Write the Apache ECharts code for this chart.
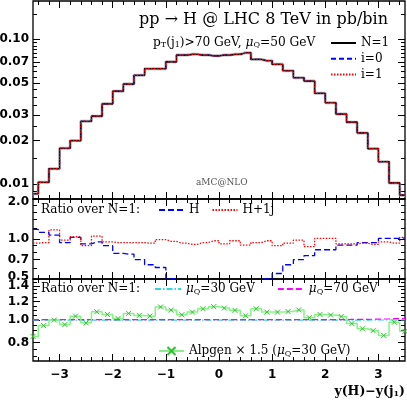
<!DOCTYPE html>
<html>
<head>
<meta charset="utf-8">
<script src="https://cdn.jsdelivr.net/npm/echarts@6/dist/echarts.min.js"></script>
<style>
html, body { margin: 0; padding: 0; background: #fff; }
#chart { width: 407px; height: 401px; }
</style>
</head>
<body>
<div id="chart"></div>
<script>
// bin centres of y(H)-y(j1), bins are 0.2 wide
var binCenters = [-3.5, -3.3, -3.1, -2.9, -2.7, -2.5, -2.3, -2.1, -1.9, -1.7, -1.5, -1.3,
    -1.1, -0.9, -0.7, -0.5, -0.3, -0.1, 0.1, 0.3, 0.5, 0.7, 0.9, 1.1,
    1.3, 1.5, 1.7, 1.9, 2.1, 2.3, 2.5, 2.7, 2.9, 3.1, 3.3, 3.5];

// main panel, pb/bin (N=1, i=0 and i=1 lie on top of each other)
var xsecN1 = [0.0086, 0.0103, 0.0128, 0.0177, 0.0200, 0.0272, 0.0295, 0.0359, 0.0439, 0.0491, 0.0564, 0.0627,
    0.0627, 0.0700, 0.0779, 0.0788, 0.0779, 0.0770, 0.0779, 0.0788, 0.0808, 0.0727, 0.0712, 0.0672,
    0.0607, 0.0543, 0.0515, 0.0424, 0.0365, 0.0305, 0.0268, 0.0226, 0.0176, 0.0143, 0.0102, 0.0084];

// ratio panel 1
var ratioH = [1.18, 1.12, 1.07, 0.94, 1.03, 0.92, 0.95, 0.89, 0.78, 0.77, 0.70, 0.64,
    0.61, 0.50, 0.45, 0.41, 0.38, 0.37, 0.37, 0.38, 0.41, 0.45, 0.50, 0.55,
    0.64, 0.70, 0.75, 0.83, 0.83, 0.90, 0.90, 0.94, 0.94, 1.01, 1.01, 1.02];
var ratioHj = [0.93, 0.94, 1.17, 0.98, 1.04, 0.89, 1.05, 0.95, 0.94, 0.94, 0.94, 0.93,
    0.99, 0.96, 0.93, 0.91, 0.94, 0.97, 0.92, 0.97, 0.90, 0.94, 0.97, 0.89,
    0.93, 0.98, 0.875, 1.01, 1.01, 0.92, 0.92, 0.93, 0.91, 0.95, 0.93, 1.03];

// ratio panel 2
var ratioMu30 = [0.999, 0.999, 0.999, 0.999, 0.999, 0.999, 0.999, 0.999, 0.999, 0.999, 0.999, 0.999,
    0.999, 0.999, 0.999, 0.999, 0.999, 0.999, 0.999, 0.999, 0.999, 0.999, 0.999, 0.999,
    0.999, 0.999, 0.999, 0.999, 0.999, 0.999, 0.999, 0.999, 1.000, 1.000, 1.002, 1.002];
var ratioMu70 = [1.004, 1.004, 1.004, 1.004, 1.004, 1.004, 1.004, 1.004, 1.004, 1.004, 1.004, 1.004,
    1.004, 1.004, 1.004, 1.004, 1.004, 1.004, 1.004, 1.004, 1.004, 1.004, 1.004, 1.004,
    1.004, 1.004, 1.004, 1.004, 1.004, 1.004, 1.006, 1.006, 1.008, 1.010, 1.014, 1.014];
var ratioAlpgen = [0.85, 0.946, 1.00, 0.956, 1.039, 0.972, 1.085, 1.057, 1.015, 1.067, 1.046, 1.039,
    1.137, 1.103, 1.053, 1.081, 1.118, 1.141, 1.125, 1.10, 1.043, 1.118, 1.081, 1.081,
    1.087, 1.105, 1.023, 1.057, 1.051, 1.035, 0.965, 0.917, 0.90, 0.858, 0.978, 0.894];

// ticks and labels
var xMajor = [-3, -2, -1, 0, 1, 2, 3];
var xMinor = [-3.4, -3.2, -2.8, -2.6, -2.4, -2.2, -1.8, -1.6, -1.4, -1.2, -0.8, -0.6, -0.4, -0.2,
    0.2, 0.4, 0.6, 0.8, 1.2, 1.4, 1.6, 1.8, 2.2, 2.4, 2.6, 2.8, 3.2, 3.4];
var mainLabels = [0.01, 0.02, 0.03, 0.05, 0.07, 0.10];
var mainMinor = [0.008, 0.009, 0.015, 0.025, 0.035, 0.04, 0.045, 0.055, 0.06, 0.065,
    0.075, 0.08, 0.085, 0.09, 0.095, 0.15];
var r1Labels = [0.5, 0.7, 1.0, 2.0];
var r1Minor = [0.6, 0.8, 0.9, 1.2, 1.4, 1.6, 1.8];
var r2Labels = [0.8, 1.0, 1.2, 1.4];
var r2Minor = [0.7, 0.75, 0.85, 0.9, 0.95, 1.05, 1.1, 1.15, 1.25, 1.3, 1.35, 1.45];

var SERIF = 'DejaVu Serif';
var SANS = 'DejaVu Sans';

function pairs(vals) {
    return binCenters.map(function (x, i) { return [x, vals[i]]; });
}

var grids = [
    { left: 33, top: 1, width: 372, height: 198 },
    { left: 33, top: 199, width: 372, height: 80 },
    { left: 33, top: 279, width: 372, height: 82 }
];
grids.forEach(function (g) {
    g.show = true;
    g.borderColor = '#000';
    g.borderWidth = 1.3;
    g.containLabel = false;
    g.outerBoundsMode = 'none';
});

var xAxes = [], yAxes = [];
var noLine = { show: false, onZero: false };

function addX(g, withLabels) {
    var idx = xAxes.length;
    ['bottom', 'top'].forEach(function (pos) {
        [[xMajor, 7], [xMinor, 4]].forEach(function (t, k) {
            var lab = withLabels && pos === 'bottom' && k === 0;
            xAxes.push({
                type: 'value', gridIndex: g, position: pos, min: -3.5, max: 3.5,
                axisLine: noLine, splitLine: { show: false },
                axisTick: { show: true, inside: true, length: t[1], customValues: t[0],
                    lineStyle: { color: '#000', width: 1 } },
                axisLabel: lab ? {
                    show: true, customValues: xMajor, margin: 8,
                    fontFamily: SANS, fontWeight: 'bold', fontSize: 12, color: '#000',
                    formatter: function (v) { return v < 0 ? '\u2212' + (-v) : '' + v; }
                } : { show: false }
            });
        });
    });
    return idx;
}

function addY(g, lo, hi, labels, minor, digits, shift) {
    var idx = yAxes.length;
    var L = Math.log10;
    yAxes.push({ type: 'log', gridIndex: g, position: 'left', min: lo, max: hi, show: false,
        axisLine: noLine });
    ['left', 'right'].forEach(function (pos) {
        yAxes.push({
            type: 'value', gridIndex: g, position: pos, min: L(lo), max: L(hi),
            axisLine: noLine, splitLine: { show: false },
            axisTick: { show: true, inside: true, length: 7, customValues: labels.map(L),
                lineStyle: { color: '#000', width: 1 } },
            axisLabel: pos === 'left' ? {
                show: true, customValues: labels.map(L), margin: 4,
                fontFamily: SANS, fontWeight: 'bold', fontSize: 12, color: '#000',
                formatter: function (v) {
                    var t = Math.pow(10, v).toFixed(digits);
                    if (shift && shift[t]) return '{' + shift[t] + '|' + t + '}';
                    return t;
                },
                rich: {
                    dn: { fontFamily: SANS, fontWeight: 'bold', fontSize: 12, padding: [6, 0, 0, 0] },
                    up: { fontFamily: SANS, fontWeight: 'bold', fontSize: 12, padding: [0, 0, 5, 0] }
                }
            } : { show: false }
        });
        yAxes.push({
            type: 'value', gridIndex: g, position: pos, min: L(lo), max: L(hi),
            axisLine: noLine, splitLine: { show: false },
            axisTick: { show: true, inside: true, length: 4, customValues: minor.map(L),
                lineStyle: { color: '#000', width: 1 } },
            axisLabel: { show: false }
        });
    });
    return idx;
}

var x0 = addX(0, false), y0 = addY(0, 0.0079, 0.184, mainLabels, mainMinor, 2, null);
var x1 = addX(1, false), y1 = addY(1, 0.5, 2.0, r1Labels, r1Minor, 1, { '2.0': 'dn', '0.5': 'up' });
var x2 = addX(2, true), y2 = addY(2, 2 / 3, 1.5, r2Labels, r2Minor, 1, null);

function stepLine(name, xi, yi, vals, color, width, dash) {
    return {
        name: name, type: 'line', step: 'middle', xAxisIndex: xi, yAxisIndex: yi,
        data: pairs(vals), showSymbol: false, symbol: 'none', silent: true,
        color: color,
        lineStyle: { color: color, width: width, type: dash || 'solid' }
    };
}

function txt(size) { return { fontFamily: SERIF, fontSize: size, fontWeight: 'normal', color: '#000' }; }
function mu(size) { return { fontFamily: SERIF, fontSize: size, fontWeight: 'normal', fontStyle: 'italic', color: '#000' }; }
var sub = { fontFamily: SERIF, fontSize: 8, fontWeight: 'normal', color: '#000', verticalAlign: 'bottom', padding: [5, 0, 0, 0] };

var legendNames = {
    'mu30': '{m|\u03bc}{s|Q}{t|=30 GeV}',
    'mu70': '{m|\u03bc}{s|Q}{t|=70 GeV}',
    'alp': '{t|Alpgen \u00d7 1.5 (}{m|\u03bc}{s|Q}{t|=30 GeV)}'
};
var legendRich = { t: txt(12), m: mu(12), s: sub };
var noMarker = { opacity: 0 };

var alpgen = stepLine('alp', x2, y2, ratioAlpgen, '#86f286', 1.5);
alpgen.showSymbol = true;
alpgen.symbol = 'path://M0,0L10,10M10,0L0,10';
alpgen.symbolSize = 5;
alpgen.itemStyle = { color: '#2fbf2f', borderColor: '#2fbf2f', borderWidth: 1 };

var option = {
    animation: false,
    backgroundColor: '#fff',
    grid: grids,
    xAxis: xAxes,
    yAxis: yAxes,
    title: [
        { text: 'pp \u2192 H @ LHC 8 TeV in pb/bin', right: 19, top: 12, padding: 0,
          textStyle: { fontFamily: SERIF, fontSize: 16, fontWeight: 'normal', color: '#000' } },
        { text: '{t|p}{s|T}{t|(j}{s|1}{t|)>70 GeV, }{m|\u03bc}{s|Q}{t|=50 GeV}', left: 153, top: 36, padding: 0,
          textStyle: { fontWeight: 'normal', rich: { t: txt(12.2), m: mu(12.2), s: sub } } },
        { text: 'aMC@NLO', left: 196, top: 178, padding: 0,
          textStyle: { fontFamily: SERIF, fontSize: 9, fontWeight: 'normal', color: '#555' } },
        { text: 'Ratio over N=1:', left: 41, top: 204, padding: 0,
          textStyle: { fontFamily: SERIF, fontSize: 12, fontWeight: 'normal', color: '#000' } },
        { text: 'Ratio over N=1:', left: 41, top: 283, padding: 0,
          textStyle: { fontFamily: SERIF, fontSize: 12, fontWeight: 'normal', color: '#000' } },
        { text: '{t|y(H)\u2212y(j}{s|1}{t|)}', right: 2, top: 385, padding: 0,
          textStyle: { rich: { t: { fontFamily: SERIF, fontSize: 12.5, fontWeight: 'bold', color: '#000' },
              s: { fontFamily: SERIF, fontSize: 8, fontWeight: 'bold', color: '#000', verticalAlign: 'bottom', padding: [5, 0, 0, 0] } } } }
    ],
    legend: [
        { data: ['N=1', 'i=0', 'i=1'], orient: 'vertical', left: 330, top: 37, padding: 0,
          itemWidth: 25, itemHeight: 10, itemGap: 3.7, selectedMode: false,
          itemStyle: noMarker, textStyle: txt(12) },
        { data: ['H', 'H+1j'], left: 158, top: 204, padding: 0, itemWidth: 25, itemHeight: 10, itemGap: 12,
          selectedMode: false, itemStyle: noMarker, textStyle: txt(12) },
        { data: ['mu30', 'mu70'], left: 154, top: 283, padding: 0, itemWidth: 26, itemHeight: 10, itemGap: 22,
          selectedMode: false, itemStyle: noMarker, formatter: function (n) { return legendNames[n]; },
          textStyle: { rich: legendRich } },
        { data: ['alp'], left: 158, top: 345, padding: 0, itemWidth: 25, itemHeight: 10,
          selectedMode: false, formatter: function (n) { return legendNames[n]; },
          textStyle: { rich: legendRich } }
    ],
    series: [
        stepLine('halo', x0, y0, xsecN1, '#b4b4b4', 3),
        stepLine('i=0', x0, y0, xsecN1, '#0000ff', 1.2, [5, 3]),
        stepLine('N=1', x0, y0, xsecN1, '#000', 1.2),
        stepLine('i=1', x0, y0, xsecN1, '#ff0000', 1.2, [1.5, 1.5]),
        stepLine('H', x1, y1, ratioH, '#0000ff', 1.3, [6, 3]),
        stepLine('H+1j', x1, y1, ratioHj, '#ff0000', 1.3, [1.5, 1.5]),
        stepLine('mu30', x2, y2, ratioMu30, '#30d8d8', 1.2, [6, 2, 1.5, 2]),
        stepLine('mu70', x2, y2, ratioMu70, '#ff00ff', 1.2, [6, 3]),
        alpgen
    ]
};

var chart = echarts.init(document.getElementById('chart'), null, { renderer: 'canvas' });
chart.setOption(option);
window.addEventListener('resize', function () { chart.resize(); });
</script>
</body>
</html>
